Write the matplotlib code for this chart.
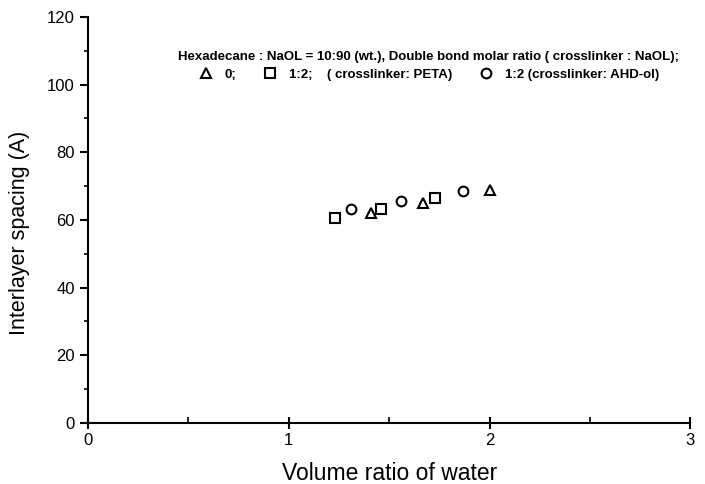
import matplotlib.pyplot as plt
import numpy as np

plt.rcParams['font.family'] = ['Liberation Sans', 'DejaVu Sans']

# crosslinker ratio 0
tri_x = [1.41, 1.67, 2.0]
tri_y = [62.2, 65.0, 69.0]
# 1:2 PETA
sq_x = [1.23, 1.46, 1.73]
sq_y = [60.6, 63.2, 66.5]
# 1:2 AHD-ol
circ_x = [1.31, 1.56, 1.87]
circ_y = [63.1, 65.7, 68.5]

fig = plt.figure(figsize=(7.05, 4.84), dpi=100)
ax = fig.add_axes([0.125, 0.126, 0.854, 0.839])

mk = dict(linestyle='none', mfc='none', mec='black', mew=1.5, ms=7)
ax.plot(tri_x, tri_y, marker='^', label='0;', **mk)
ax.plot(sq_x, sq_y, marker='s', label='1:2;    ( crosslinker: PETA)', **mk)
ax.plot(circ_x, circ_y, marker='o', label='1:2 (crosslinker: AHD-ol)', **mk)

ax.set_xlim(0, 3)
ax.set_ylim(0, 120)
ax.set_xticks([0, 1, 2, 3])
ax.set_xticks([0.5, 1.5, 2.5], minor=True)
ax.set_yticks(np.arange(0, 121, 20))
ax.set_yticks(np.arange(10, 120, 20), minor=True)
ax.spines['top'].set_visible(False)
ax.spines['right'].set_visible(False)
ax.spines['left'].set_linewidth(1.5)
ax.spines['bottom'].set_linewidth(1.5)
ax.tick_params(axis='y', which='major', direction='out', length=6, width=1.5, labelsize=12)
ax.tick_params(axis='y', which='minor', direction='out', length=3, width=1.2)
ax.tick_params(axis='x', which='major', direction='inout', length=8, width=1.5, labelsize=12)
ax.tick_params(axis='x', which='minor', direction='in', length=4, width=1.2)

ax.set_xlabel('Volume ratio of water', fontsize=16.5, labelpad=10)
ax.set_ylabel('Interlayer spacing (A)', fontsize=15.5)
ax.yaxis.set_label_coords(-0.097, 0.468)

leg = ax.legend(loc='upper center', bbox_to_anchor=(0.565, 0.933), ncol=3, frameon=False,
                title='Hexadecane : NaOL = 10:90 (wt.), Double bond molar ratio ( crosslinker : NaOL);',
                prop={'weight': 'bold', 'size': 9.5}, handletextpad=0.8, columnspacing=2.0,
                borderpad=0, labelspacing=0.43, handlelength=1.2)
leg.get_title().set_fontweight('bold')
leg.get_title().set_fontsize(9.5)

fig.savefig('out.png', dpi=100)
